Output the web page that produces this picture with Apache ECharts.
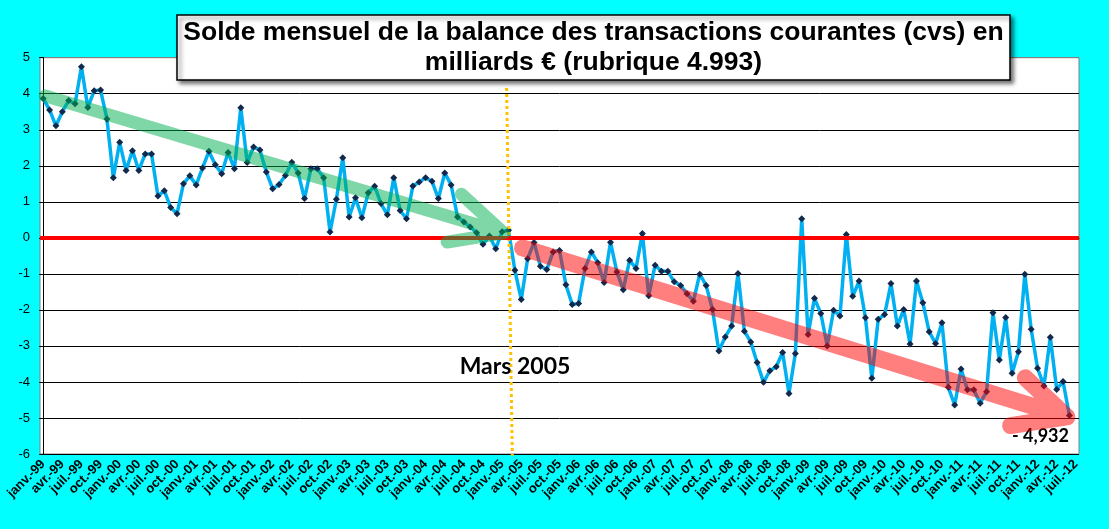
<!DOCTYPE html>
<html>
<head>
<meta charset="utf-8">
<title>Solde mensuel de la balance des transactions courantes</title>
<script src="https://cdn.jsdelivr.net/npm/echarts@6/dist/echarts.min.js"></script>
<style>
    html, body { margin: 0; padding: 0; background: #00ffff; }
    #chart { width: 1109px; height: 529px; }
</style>
</head>
<body>
<div id="chart"></div>
<script>
'use strict';

// libellés des mois (seuls janv., avr., juil., oct. sont affichés)
var months = ['janv.', 'févr.', 'mars', 'avr.', 'mai', 'juin', 'juil.', 'août', 'sept.', 'oct.', 'nov.', 'déc.'];
var years = ['99', '00', '01', '02', '03', '04', '05', '06', '07', '08', '09', '10', '11', '12'];

// solde mensuel en milliards d'euros, de janv.-99 à juin-12
var solde = [
    3.87, 3.55, 3.11, 3.50, 3.81, 3.72, 4.75, 3.62, 4.08, 4.10, 3.30, 1.67,
    2.65, 1.87, 2.42, 1.87, 2.33, 2.33, 1.16, 1.31, 0.84, 0.67, 1.50, 1.72,
    1.47, 1.94, 2.40, 2.03, 1.78, 2.37, 1.92, 3.61, 2.09, 2.52, 2.44, 1.83,
    1.36, 1.48, 1.73, 2.10, 1.80, 1.09, 1.92, 1.92, 1.67, 0.16, 1.07, 2.22,
    0.58, 1.11, 0.56, 1.25, 1.43, 0.95, 0.64, 1.67, 0.76, 0.53, 1.44, 1.55,
    1.67, 1.57, 1.09, 1.80, 1.47, 0.58, 0.44, 0.30, 0.14, -0.18, 0.05, -0.30,
    0.17, 0.21, -0.90, -1.71, -0.58, -0.13, -0.79, -0.88, -0.39, -0.35, -1.30, -1.85,
    -1.82, -0.85, -0.39, -0.69, -1.24, -0.12, -0.95, -1.44, -0.62, -0.85, 0.12, -1.61,
    -0.76, -0.93, -0.93, -1.22, -1.32, -1.55, -1.76, -1.01, -1.32, -1.99, -3.14, -2.75,
    -2.45, -0.99, -2.59, -2.89, -3.46, -4.01, -3.69, -3.58, -3.18, -4.32, -3.21, 0.53,
    -2.68, -1.68, -2.10, -3.00, -2.01, -2.17, 0.09, -1.62, -1.20, -2.22, -3.90, -2.26,
    -2.13, -1.27, -2.45, -1.99, -2.95, -1.20, -1.80, -2.61, -2.93, -2.36, -4.15, -4.64,
    -3.64, -4.22, -4.22, -4.59, -4.27, -2.08, -3.39, -2.21, -3.76, -3.16, -1.01, -2.54,
    -3.62, -4.11, -2.76, -4.21, -3.99, -4.932
];

// flèches de tendance : [indice début, valeur début, indice fin, valeur fin]
var tendances = [
    [0.33, 3.94, 72.2, 0.14],
    [75.2, -0.28, 160.6, -4.97]
];
// repère mars 2005 : [indice haut, valeur haut, indice bas, valeur bas]
var repereMars = [[72.7, 4.16, 73.6, -6.05]];

var categories = [];
years.forEach(function (y) {
    months.forEach(function (m) {
        if (categories.length < 163) {
            categories.push(m + '-' + y);
        }
    });
});

var lastIndex = solde.length - 1;
var lineData = solde.map(function (v, i) {
    if (i !== lastIndex) {
        return v;
    }
    return {
        value: v,
        label: {
            show: true,
            position: 'bottom',
            distance: 8,
            offset: [-29, 0],
            formatter: '- 4,932',
            fontFamily: 'Lato',
            fontWeight: 'bold',
            fontSize: 18,
            color: '#000'
        }
    };
});

var arrowStyles = [
    {stroke: 'rgba(0, 176, 80, 0.5)', lineWidth: 13},
    {stroke: 'rgba(255, 0, 0, 0.5)', lineWidth: 17}
];

var renderArrow = function (params, api) {
    var p1 = api.coord([api.value(0), api.value(1)]);
    var p2 = api.coord([api.value(2), api.value(3)]);
    var ang = Math.atan2(p2[1] - p1[1], p2[0] - p1[0]);
    var len = 57;
    var spread = 26 * Math.PI / 180;
    var a = [p2[0] - len * Math.cos(ang - spread), p2[1] - len * Math.sin(ang - spread)];
    var b = [p2[0] - len * Math.cos(ang + spread), p2[1] - len * Math.sin(ang + spread)];
    var st = arrowStyles[params.dataIndex];
    return {
        type: 'polyline',
        shape: {points: [p1, p2, a, p2, b]},
        style: {
            fill: 'none',
            stroke: st.stroke,
            lineWidth: st.lineWidth,
            lineCap: 'round',
            lineJoin: 'round'
        }
    };
};

var renderRepere = function (params, api) {
    var p1 = api.coord([api.value(0), api.value(1)]);
    var p2 = api.coord([api.value(2), api.value(3)]);
    return {
        type: 'line',
        shape: {x1: p1[0], y1: p1[1], x2: p2[0], y2: p2[1]},
        style: {stroke: '#ffc000', lineWidth: 3, lineDash: [3, 3]}
    };
};

var splitColors = [];
for (var k = 0; k < 11; k++) {
    splitColors.push('#000');
}
splitColors.push('#808080');

var myChart = echarts.init(document.getElementById('chart'));

var option = {
    animation: false,
    backgroundColor: '#00ffff',
    grid: {
        left: 40,
        right: 30,
        top: 57.7,
        bottom: 75,
        show: true,
        backgroundColor: '#fff',
        borderColor: '#808080',
        borderWidth: 1
    },
    xAxis: [
        {
            type: 'category',
            data: categories,
            boundaryGap: true,
            axisLine: {lineStyle: {color: '#000', width: 1}},
            axisTick: {interval: 2, length: 5, lineStyle: {color: '#000'}},
            axisLabel: {
                interval: 2,
                rotate: 45,
                margin: 8,
                color: '#000',
                fontFamily: 'Liberation Sans',
                fontWeight: 'bold',
                fontSize: 13
            },
            splitLine: {show: false}
        },
        {
            type: 'value',
            min: -0.5,
            max: 162.5,
            show: false
        }
    ],
    yAxis: {
        type: 'value',
        min: -6,
        max: 5,
        interval: 1,
        axisLine: {show: true, lineStyle: {color: '#000', width: 1}},
        axisTick: {show: true, length: 4, lineStyle: {color: '#000'}},
        axisLabel: {
            margin: 10,
            color: '#000',
            fontFamily: 'Liberation Sans',
            fontSize: 13
        },
        splitLine: {lineStyle: {color: splitColors, width: 1}}
    },
    graphic: [
        {
            type: 'rect',
            shape: {x: 177, y: 15, width: 833, height: 65},
            style: {
                fill: '#fff',
                stroke: '#000',
                lineWidth: 1.5,
                shadowBlur: 4,
                shadowOffsetX: 3,
                shadowOffsetY: 3,
                shadowColor: 'rgba(0, 0, 0, 0.55)'
            },
            z: 10
        },
        {
            type: 'text',
            x: 593.5,
            y: 48,
            style: {
                text: 'Solde mensuel de la balance des transactions courantes (cvs) en\nmilliards € (rubrique 4.993)',
                align: 'center',
                verticalAlign: 'middle',
                lineHeight: 30,
                fill: '#000',
                fontFamily: 'Liberation Sans',
                fontWeight: 'bold',
                fontSize: 26.5
            },
            z: 11
        },
        {
            type: 'text',
            x: 515,
            y: 367,
            style: {
                text: 'Mars 2005',
                align: 'center',
                verticalAlign: 'middle',
                fill: '#000',
                fontFamily: 'Lato',
                fontWeight: 'bold',
                fontSize: 23
            },
            z: 10
        }
    ],
    series: [
        {
            // ligne zéro en rouge
            type: 'line',
            data: [],
            z: 1,
            markLine: {
                silent: true,
                symbol: 'none',
                label: {show: false},
                lineStyle: {color: '#ff0000', width: 4, type: 'solid'},
                data: [{yAxis: 0}]
            }
        },
        {
            name: 'Solde mensuel',
            type: 'line',
            data: lineData,
            z: 3,
            symbol: 'diamond',
            symbolSize: 7,
            showAllSymbol: true,
            lineStyle: {color: '#00b0f0', width: 3.5},
            itemStyle: {color: '#10294d', borderWidth: 0}
        },
        {
            type: 'custom',
            xAxisIndex: 1,
            data: repereMars,
            encode: {x: [0, 2], y: [1, 3]},
            renderItem: renderRepere,
            silent: true,
            z: 4
        },
        {
            type: 'custom',
            xAxisIndex: 1,
            data: tendances,
            encode: {x: [0, 2], y: [1, 3]},
            renderItem: renderArrow,
            silent: true,
            z: 5
        }
    ]
};

myChart.setOption(option);
</script>
</body>
</html>
